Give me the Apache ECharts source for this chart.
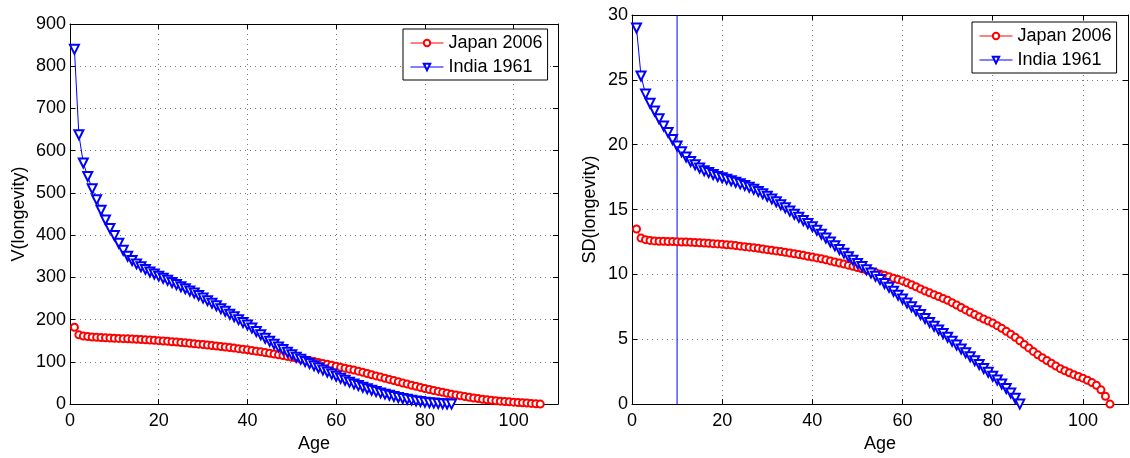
<!DOCTYPE html>
<html>
<head>
<meta charset="utf-8">
<script src="https://cdn.jsdelivr.net/npm/echarts@6/dist/echarts.min.js"></script>
<style>
  html, body { margin: 0; padding: 0; background: #fff; }
  #chart { width: 1130px; height: 458px; }
</style>
</head>
<body>
<div id="chart"></div>
<script>
// Variance of remaining longevity by age (left panel)
const japanV = [
  182, 164, 161, 160, 159, 158, 157.5, 157, 156.5, 156,
  155.5, 155, 154.5, 154, 153.5, 153, 152.3, 151.6, 150.9, 150.2,
  149.4, 148.6, 147.7, 146.8, 145.9, 145, 144, 143, 142, 141,
  139.9, 138.8, 137.6, 136.4, 135.2, 133.9, 132.6, 131.2, 129.8, 128.4,
  126.9, 125.3, 123.7, 122, 120.3, 118.5, 116.7, 114.8, 112.9, 110.9,
  108.9, 106.9, 104.8, 102.7, 100.6, 98.5, 96.3, 94.1, 91.9, 89.7,
  87.4, 85.1, 82.8, 80.5, 78, 75.2, 72.4, 69.6, 66.8, 64,
  61.2, 58.4, 55.6, 52.8, 50, 47.3, 44.7, 42.1, 39.6, 37,
  34.6, 32.3, 30, 27.8, 25.6, 23.5, 21.5, 19.6, 17.8, 16.1,
  14.5, 13, 11.6, 10.3, 9.1, 8, 7, 6.1, 5.3, 4.6,
  3.9, 3.2, 2.5, 1.7, 0.9, 0
];
const indiaV = [
  840, 638, 571, 539, 510, 484, 459, 436, 416, 399,
  381, 364, 350, 340, 332, 325, 319, 313, 308, 303,
  298, 293, 288, 283, 278, 273, 268, 263, 257, 251,
  245, 239, 233, 226, 220, 213, 207, 200, 193, 187,
  180, 172, 164, 156, 149, 142, 135, 129, 123, 117,
  111, 106, 101, 96, 91, 86, 81, 76, 71, 66,
  61, 56.5, 52, 47.8, 43.8, 40, 36.3, 32.8, 29.6, 26.5,
  23.6, 20.8, 18.2, 15.7, 13.4, 11.3, 9.4, 7.6, 6, 4.6,
  3.4, 2.4, 1.5, 0.8, 0.3, 0
];

// Standard deviation of remaining longevity by age (right panel)
const japanSD = [
  13.5, 12.8, 12.68, 12.62, 12.58, 12.56, 12.55, 12.54, 12.53, 12.52,
  12.5, 12.49, 12.47, 12.46, 12.44, 12.42, 12.4, 12.37, 12.35, 12.32,
  12.29, 12.26, 12.22, 12.18, 12.14, 12.1, 12.06, 12.01, 11.96, 11.91,
  11.86, 11.81, 11.76, 11.7, 11.65, 11.59, 11.53, 11.47, 11.4, 11.34,
  11.27, 11.2, 11.12, 11.04, 10.96, 10.88, 10.8, 10.71, 10.62, 10.53,
  10.44, 10.34, 10.24, 10.14, 10.04, 9.93, 9.82, 9.71, 9.6, 9.5,
  9.35, 9.2, 9.05, 8.88, 8.72, 8.58, 8.44, 8.3, 8.15, 8.0,
  7.82, 7.64, 7.45, 7.26, 7.08, 6.9, 6.73, 6.56, 6.4, 6.25,
  6.05, 5.84, 5.62, 5.39, 5.15, 4.88, 4.6, 4.33, 4.06, 3.8,
  3.58, 3.36, 3.15, 2.94, 2.73, 2.57, 2.42, 2.27, 2.13, 2.0,
  1.84, 1.66, 1.45, 1.1, 0.6, 0
];
const indiaSD = [
  29.0, 25.3, 23.9, 23.2, 22.6, 22.0, 21.45, 20.95, 20.4, 19.9,
  19.45, 19.05, 18.7, 18.45, 18.2, 18.0, 17.85, 17.7, 17.55, 17.45,
  17.33, 17.22, 17.1, 16.98, 16.86, 16.72, 16.57, 16.4, 16.22, 16.03,
  15.82, 15.6, 15.37, 15.13, 14.88, 14.64, 14.4, 14.16, 13.92, 13.68,
  13.4, 13.1, 12.8, 12.5, 12.2, 11.92, 11.64, 11.36, 11.1, 10.85,
  10.6, 10.35, 10.1, 9.85, 9.6, 9.3, 9.0, 8.7, 8.4, 8.1,
  7.8, 7.5, 7.2, 6.9, 6.6, 6.3, 6.0, 5.72, 5.44, 5.15,
  4.85, 4.55, 4.25, 3.95, 3.65, 3.35, 3.05, 2.75, 2.45, 2.15,
  1.85, 1.55, 1.2, 0.85, 0.45, 0.0
];

const firstAge = 1;
const markedAge = 10;
const xTicks = [0, 20, 40, 60, 80, 100];
const xMax = 110;
const vTicks = [0, 100, 200, 300, 400, 500, 600, 700, 800, 900];
const sdTicks = [0, 5, 10, 15, 20, 25, 30];
const seriesNames = ['Japan 2006', 'India 1961'];

const FONT = 'Liberation Sans, Arial, Helvetica, sans-serif';
const RED = '#ff0000';
const BLUE = '#0000ff';

function byAge(values) {
  return values.map((v, i) => [firstAge + i, v]);
}

function tickStep(ticks) { return ticks[1] - ticks[0]; }

function mainX(gridIndex) {
  return {
    type: 'value', gridIndex, position: 'bottom',
    min: xTicks[0], max: xMax, interval: tickStep(xTicks),
    name: 'Age', nameLocation: 'middle', nameGap: 26,
    nameTextStyle: { fontFamily: FONT, fontSize: 18, color: '#000' },
    axisLine: { onZero: false, lineStyle: { color: '#000', width: 1 } },
    axisTick: { inside: true, length: 5, lineStyle: { color: '#000' } },
    axisLabel: { fontFamily: FONT, fontSize: 18, color: '#000', margin: 8, showMaxLabel: false },
    splitLine: { show: true, lineStyle: { color: '#777', type: [1, 4], width: 1 } }
  };
}
function topX(gridIndex) {
  return {
    type: 'value', gridIndex, position: 'top',
    min: xTicks[0], max: xMax, interval: tickStep(xTicks),
    axisLine: { onZero: false, lineStyle: { color: '#000', width: 1 } },
    axisTick: { inside: true, length: 5, lineStyle: { color: '#000' } },
    axisLabel: { show: false }, splitLine: { show: false }
  };
}
function mainY(gridIndex, ticks, name, gap) {
  return {
    type: 'value', gridIndex, position: 'left',
    min: ticks[0], max: ticks[ticks.length - 1], interval: tickStep(ticks),
    name, nameLocation: 'middle', nameGap: gap,
    nameTextStyle: { fontFamily: FONT, fontSize: 18, color: '#000' },
    axisLine: { show: true, onZero: false, lineStyle: { color: '#000', width: 1 } },
    axisTick: { show: true, inside: true, length: 5, lineStyle: { color: '#000' } },
    axisLabel: { fontFamily: FONT, fontSize: 18, color: '#000', margin: 4 },
    splitLine: { show: true, lineStyle: { color: '#777', type: [1, 4], width: 1 } }
  };
}
function rightY(gridIndex, ticks) {
  return {
    type: 'value', gridIndex, position: 'right',
    min: ticks[0], max: ticks[ticks.length - 1], interval: tickStep(ticks),
    axisLine: { show: true, onZero: false, lineStyle: { color: '#000', width: 1 } },
    axisTick: { show: true, inside: true, length: 5, lineStyle: { color: '#000' } },
    axisLabel: { show: false }, splitLine: { show: false }
  };
}

function lineSeries(name, data, xi, yi, color, symbol, size, extra) {
  return Object.assign({
    name, type: 'line', xAxisIndex: xi, yAxisIndex: yi, data,
    symbol, symbolSize: size,
    showAllSymbol: true,
    lineStyle: { color, width: 1 },
    itemStyle: { color, borderColor: color, borderWidth: 1 },
    emphasis: { disabled: true },
    z: 3
  }, extra || {});
}

function legend(left, top) {
  return {
    data: seriesNames,
    orient: 'vertical', left, top,
    backgroundColor: '#fff', borderColor: '#000', borderWidth: 1,
    padding: [4, 5, 3, 7],
    itemWidth: 33, itemHeight: 8, itemGap: 4,
    lineStyle: { width: 1 },
    textStyle: { fontFamily: FONT, fontSize: 18, color: '#000', lineHeight: 20 },
    selectedMode: false
  };
}

const chart = echarts.init(document.getElementById('chart'), null, { renderer: 'canvas' });
chart.setOption({
  animation: false,
  backgroundColor: '#fff',
  grid: [
    { left: 70, top: 24, right: 572, bottom: 50 },
    { left: 632, top: 15, right: 2, bottom: 51 }
  ],
  legend: [legend(403, 29), legend(972, 22)],
  xAxis: [mainX(0), topX(0), mainX(1), topX(1)],
  yAxis: [
    mainY(0, vTicks, 'V(longevity)', 42), rightY(0, vTicks),
    mainY(1, sdTicks, 'SD(longevity)', 33), rightY(1, sdTicks)
  ],
  series: [
    lineSeries(seriesNames[0], byAge(japanV), 0, 0, RED, 'emptyCircle', 7),
    lineSeries(seriesNames[1], byAge(indiaV), 0, 0, BLUE, 'emptyTriangle', 9, { symbolRotate: 180 }),
    // vertical reference line at the marked age, spanning the full SD range
    {
      name: 'marker', type: 'line', xAxisIndex: 2, yAxisIndex: 2,
      data: [[markedAge, sdTicks[0]], [markedAge, sdTicks[sdTicks.length - 1]]],
      symbol: 'none', lineStyle: { color: BLUE, width: 1 },
      emphasis: { disabled: true }, silent: true, z: 2
    },
    lineSeries(seriesNames[0], byAge(japanSD), 2, 2, RED, 'emptyCircle', 7),
    lineSeries(seriesNames[1], byAge(indiaSD), 2, 2, BLUE, 'emptyTriangle', 9, { symbolRotate: 180 })
  ]
});
</script>
</body>
</html>
